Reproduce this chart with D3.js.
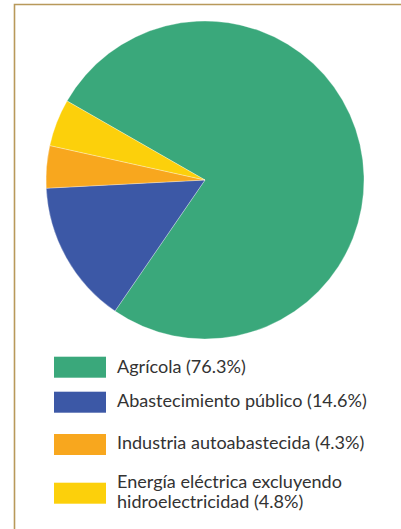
<!DOCTYPE html>
<html><head><meta charset="utf-8">
<script src="https://cdn.jsdelivr.net/npm/d3@7"></script>
<style>body{margin:0;background:#fff}svg{display:block}</style>
</head><body>
<svg id="c" width="401" height="529"></svg>
<script>
const categories = ["Agrícola", "Abastecimiento público", "Industria autoabastecida", "Energía eléctrica excluyendo hidroelectricidad"];
const values = [76.3, 14.6, 4.3, 4.8];
const legendLines = [["Agrícola (76.3%)"], ["Abastecimiento público (14.6%)"], ["Industria autoabastecida (4.3%)"], ["Energía eléctrica excluyendo", "hidroelectricidad (4.8%)"]];
const colors = ["#3aa87b", "#3c58a6", "#f8a71e", "#fcd00b"];

const svg = d3.select("#c");
// frame
svg.append("path").attr("d", "M14.5,529 V4.5 H401").attr("fill", "none").attr("stroke", "#b8995a").attr("stroke-width", 1.6);

const cx = 205, cy = 180, r = 159;
const pie = d3.pie().sort(null).value(d => d).startAngle(-60.2 * Math.PI / 180).endAngle(299.8 * Math.PI / 180);
const arc = d3.arc().innerRadius(0).outerRadius(r);
const g = svg.append("g").attr("transform", `translate(${cx},${cy})`);
g.selectAll("path").data(pie(values)).join("path")
  .attr("d", arc).attr("fill", (d, i) => colors[i])
  .attr("stroke", "#fff").attr("stroke-width", 0.5).attr("stroke-opacity", 0.6);

const swatchY = [356.7, 391.7, 434, 482.7];
const baseY = [373.3, 406.7, 449, 487.7];
const leg = svg.append("g");
const texts = [];
categories.forEach((c, i) => {
  leg.append("rect").attr("x", 54).attr("y", swatchY[i]).attr("width", 52).attr("height", 21).attr("fill", colors[i]);
  legendLines[i].forEach((ln, j) => {
    const t = leg.append("text").attr("x", 117).attr("y", baseY[i] + j * 20.6)
      .attr("font-family", "Lato, sans-serif").attr("font-size", 16).attr("fill", "#333").text(ln);
    texts.push({ t, i });
  });
});
// fit font size to the reference width of the longest single-line entry
const w = texts[1].t.node().getComputedTextLength();
const fs = 16 * 250 / w;
leg.selectAll("text").attr("font-size", fs);
</script>
</body></html>
